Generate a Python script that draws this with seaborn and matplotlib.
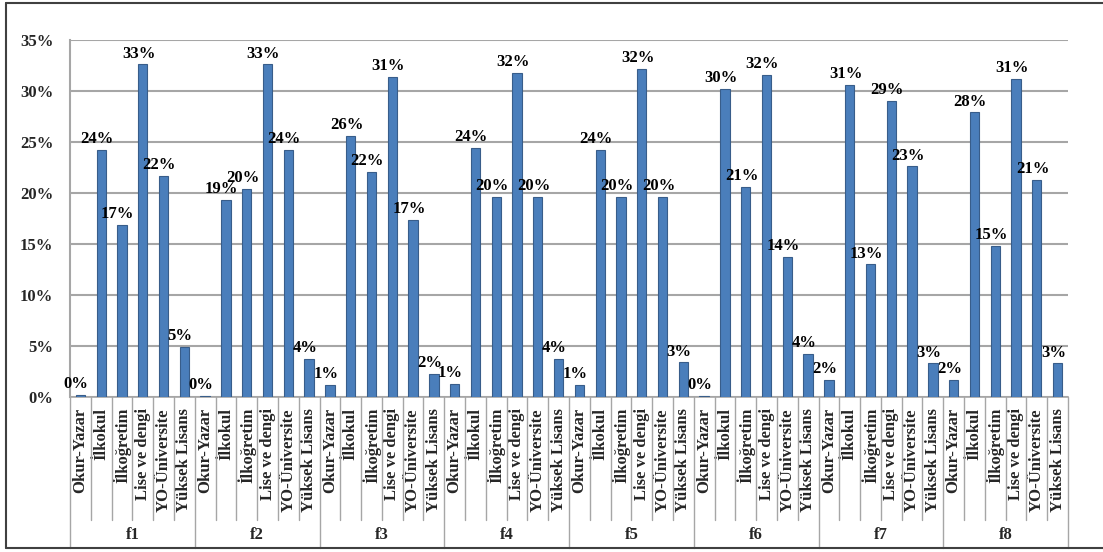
import pandas as pd
import matplotlib
matplotlib.use("Agg")
import matplotlib.pyplot as plt
import matplotlib.transforms as mtransforms
from matplotlib.lines import Line2D
from matplotlib.ticker import FuncFormatter
import seaborn as sns

# groups and education levels
groups = ['f1', 'f2', 'f3', 'f4', 'f5', 'f6', 'f7', 'f8']
levels = ['Okur-Yazar', 'İlkokul', 'İlkoğretim', 'Lise ve dengi', 'YO-Üniversite', 'Yüksek Lisans']

# percentages (one list per group, same order as levels)
f1 = [0.2, 24.2, 16.9, 32.6, 21.7, 4.9]
f2 = [0.1, 19.3, 20.4, 32.6, 24.2, 3.7]
f3 = [1.2, 25.6, 22.1, 31.4, 17.4, 2.3]
f4 = [1.3, 24.4, 19.6, 31.8, 19.6, 3.7]
f5 = [1.2, 24.2, 19.6, 32.2, 19.6, 3.4]
f6 = [0.1, 30.2, 20.6, 31.6, 13.7, 4.2]
f7 = [1.7, 30.6, 13.0, 29.0, 22.6, 3.3]
f8 = [1.7, 27.9, 14.8, 31.2, 21.3, 3.3]
series = [f1, f2, f3, f4, f5, f6, f7, f8]

rows = []
for g, vals in zip(groups, series):
    for lev, v in zip(levels, vals):
        rows.append({'group': g, 'level': lev, 'value': v, 'key': g + '_' + lev})
df = pd.DataFrame(rows)

sns.set_style("white")
plt.rcParams['font.family'] = ['Liberation Serif', 'DejaVu Serif']
plt.rcParams['font.weight'] = 'bold'

W, H = 1103, 552
fig = plt.figure(figsize=(W / 100, H / 100), dpi=100)
ax = fig.add_axes([70 / W, 1 - 397 / H, (1068 - 70) / W, (397 - 40) / H])

sns.barplot(data=df, x='key', y='value', order=list(df['key']), color='#4A7EBB',
            edgecolor='#385D8A', linewidth=0.8, width=0.45, saturation=1, ax=ax, zorder=3)

# value labels, nudged a little to the left like the original
for cont in ax.containers:
    anns = ax.bar_label(cont, labels=[f"{round(v)}%" for v in df['value']], padding=2,
                        fontsize=12, fontweight='bold', color='black')
    for a in anns:
        a.xyann = (-3, 2)

ax.set_xlim(-0.5, len(df) - 0.5)
ax.set_ylim(0, 35)
ax.set_yticks(range(0, 36, 5))
ax.yaxis.set_major_formatter(FuncFormatter(lambda v, p: f"{int(v)}%"))
ax.set_xticks(range(len(df)))
ax.set_xticklabels(list(df['level']), rotation=90, fontsize=12, fontweight='bold')
ax.tick_params(axis='x', length=0, pad=8)
ax.tick_params(axis='y', length=6, color='#A6A6A6', width=1.2, pad=6, labelsize=12)
for t in ax.get_yticklabels():
    t.set_fontweight('bold')
ax.set_xlabel('')
ax.set_ylabel('')
ax.yaxis.grid(True, color='#A6A6A6', linewidth=1.5, zorder=0)
ax.set_axisbelow(True)
for s in ['top', 'right']:
    ax.spines[s].set_visible(False)
ax.spines['left'].set_color('#A6A6A6')
ax.spines['left'].set_linewidth(1.5)
ax.spines['bottom'].set_color('#A6A6A6')
ax.spines['bottom'].set_linewidth(1.2)

# category table below the axis
trans = mtransforms.blended_transform_factory(ax.transData, fig.transFigure)
y_top = 1 - 397 / H
y_inner = 1 - 520 / H
y_bot = 1 - 548 / H
n = len(df)
for i in range(n + 1):
    x = i - 0.5
    y_end = y_bot if i % len(levels) == 0 else y_inner
    ax.add_line(Line2D([x, x], [y_top, y_end], transform=trans, color='#A6A6A6',
                       linewidth=1.0, clip_on=False))
for gi, g in enumerate(groups):
    ax.text(gi * len(levels) + (len(levels) - 1) / 2, 1 - 535 / H, g, transform=trans,
            ha='center', va='center', fontsize=12, fontweight='bold')

# outer frame
fig.add_artist(Line2D([6 / W, 6 / W], [1 - 3 / H, 1 - 548 / H], color='#404040', linewidth=1.5))
fig.add_artist(Line2D([6 / W, 1], [1 - 3 / H, 1 - 3 / H], color='#404040', linewidth=1.5))
fig.add_artist(Line2D([6 / W, 1], [1 - 548 / H, 1 - 548 / H], color='#404040', linewidth=1.5))

fig.savefig('out.png', dpi=100)
